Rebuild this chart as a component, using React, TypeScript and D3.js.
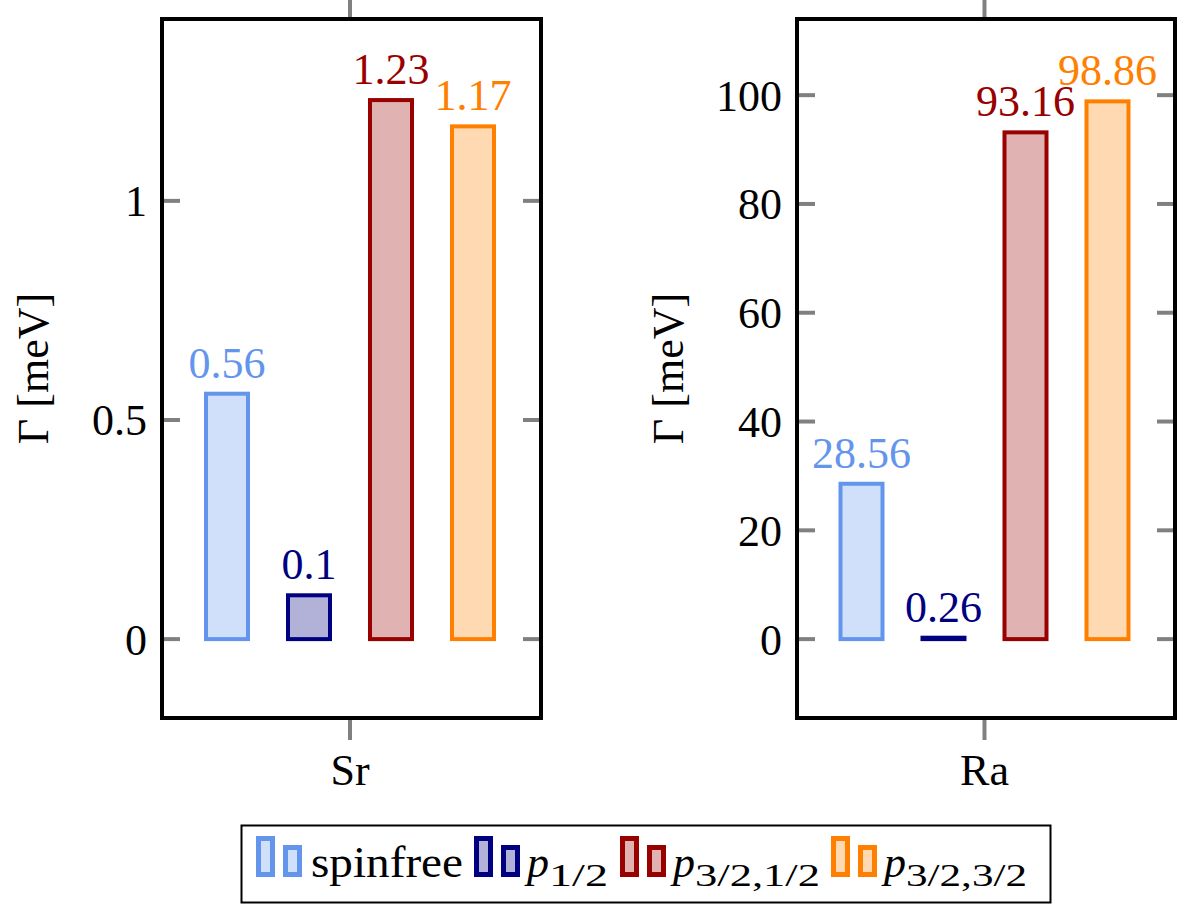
import React from "react";
import * as d3 from "d3";

const elements = ["Sr", "Ra"];
const seriesKeys = ["spinfree", "p12", "p3212", "p3232"];
const srValues = [0.56, 0.1, 1.23, 1.17];
const raValues = [28.56, 0.26, 93.16, 98.86];
const srTicks = [0, 0.5, 1];
const raTicks = [0, 20, 40, 60, 80, 100];
const srDomain = [-0.18, 1.415];
const raDomain = [-14.5, 114];
const strokeColors = ["#6495ed", "#000080", "#990000", "#ff8000"];

const FONT = "'Liberation Serif', 'DejaVu Serif', serif";
const FS = 44;
const W = 1184;
const H = 904;
const TOP = 19;
const BOTTOM = 718;
const panelsX = [
  [162, 541],
  [797, 1175],
];

function Panel({ idx }: { idx: number }) {
  const [x0, x1] = panelsX[idx];
  const values = idx === 0 ? srValues : raValues;
  const ticks = idx === 0 ? srTicks : raTicks;
  const domain = idx === 0 ? srDomain : raDomain;
  const y = d3.scaleLinear().domain(domain).range([BOTTOM, TOP]);
  const cx = (x0 + x1) / 2 - 1.5;
  const xs = d3.scalePoint().domain(seriesKeys).range([cx - 123, cx + 123]);
  const barW = 42;
  const tickLen = 18;
  const gray = "#808080";
  return (
    <g>
      {ticks.map((t) => (
        <g key={t}>
          <line x1={x0} x2={x0 + tickLen} y1={y(t)} y2={y(t)} stroke={gray} strokeWidth={4} />
          <line x1={x1 - tickLen} x2={x1} y1={y(t)} y2={y(t)} stroke={gray} strokeWidth={4} />
          <text
            x={x0 - 15}
            y={y(t)}
            dy="0.35em"
            textAnchor="end"
            fontSize={FS}
            fontFamily={FONT}
            fill="#000"
          >
            {String(t)}
          </text>
        </g>
      ))}
      <line x1={cx} x2={cx} y1={0} y2={TOP} stroke={gray} strokeWidth={4} />
      <line x1={cx} x2={cx} y1={BOTTOM} y2={BOTTOM + 22} stroke={gray} strokeWidth={4} />
      {seriesKeys.map((k, i) => {
        const v = values[i];
        const c = xs(k) as number;
        const yt = y(v);
        const yb = y(0);
        return (
          <g key={k}>
            <rect
              x={c - barW / 2}
              y={yt}
              width={barW}
              height={Math.max(yb - yt, 0.01)}
              fill={strokeColors[i]}
              fillOpacity={0.3}
              stroke={strokeColors[i]}
              strokeWidth={4}
            />
            <text
              x={c}
              y={yt - 16}
              textAnchor="middle"
              fontSize={FS}
              fontFamily={FONT}
              fill={strokeColors[i]}
            >
              {String(v)}
            </text>
          </g>
        );
      })}
      <rect x={x0} y={TOP} width={x1 - x0} height={BOTTOM - TOP} fill="none" stroke="#000" strokeWidth={4} />
      <text x={cx} y={785} textAnchor="middle" fontSize={FS} fontFamily={FONT} fill="#000">
        {elements[idx]}
      </text>
      <text
        transform={`translate(${x0 - 129},${(TOP + BOTTOM) / 2}) rotate(-90)`}
        textAnchor="middle"
        dy="0.35em"
        fontSize={FS}
        fontFamily={FONT}
        fill="#000"
      >
        Γ [meV]
      </text>
    </g>
  );
}

const legendLabels = ["spinfree", "p", "p", "p"];
const legendSubs = ["", "1/2", "3/2,1/2", "3/2,3/2"];
const legendX = [256, 474, 620, 831];
const labelWidths = [152, 18, 18, 18];
const subWidths = [0, 59, 125, 121];

export default function App() {
  return (
    <svg
      width={W}
      height={H}
      style={{ position: "absolute", left: 0, top: 0, background: "#fff" }}
    >
      <rect x={0} y={0} width={W} height={H} fill="#fff" />
      <Panel idx={0} />
      <Panel idx={1} />
      <rect x={241.5} y={825.5} width={809} height={77} fill="#fff" stroke="#000" strokeWidth={2} />
      {legendLabels.map((l, i) => {
        const lx = legendX[i];
        const sub = legendSubs[i];
        return (
          <g key={i}>
            <rect x={lx + 2.5} y={838.5} width={14} height={36} fill={strokeColors[i]} fillOpacity={0.3} stroke={strokeColors[i]} strokeWidth={5} />
            <rect x={lx + 29.5} y={847.5} width={14} height={27} fill={strokeColors[i]} fillOpacity={0.3} stroke={strokeColors[i]} strokeWidth={5} />
            {sub === "" ? (
              <text x={lx + 55} y={877} fontSize={FS} fontFamily={FONT} fill="#000" textLength={labelWidths[i]} lengthAdjust="spacingAndGlyphs">
                {l}
              </text>
            ) : (
              <g>
                <text x={lx + 53} y={877} fontSize={FS} fontFamily={FONT} fontStyle="italic" fill="#000">
                  {l}
                </text>
                <text
                  x={lx + 53 + labelWidths[i] + 4}
                  y={886}
                  fontSize={32}
                  fontFamily={FONT}
                  fill="#000"
                  textLength={subWidths[i]}
                  lengthAdjust="spacingAndGlyphs"
                >
                  {sub}
                </text>
              </g>
            )}
          </g>
        );
      })}
    </svg>
  );
}
